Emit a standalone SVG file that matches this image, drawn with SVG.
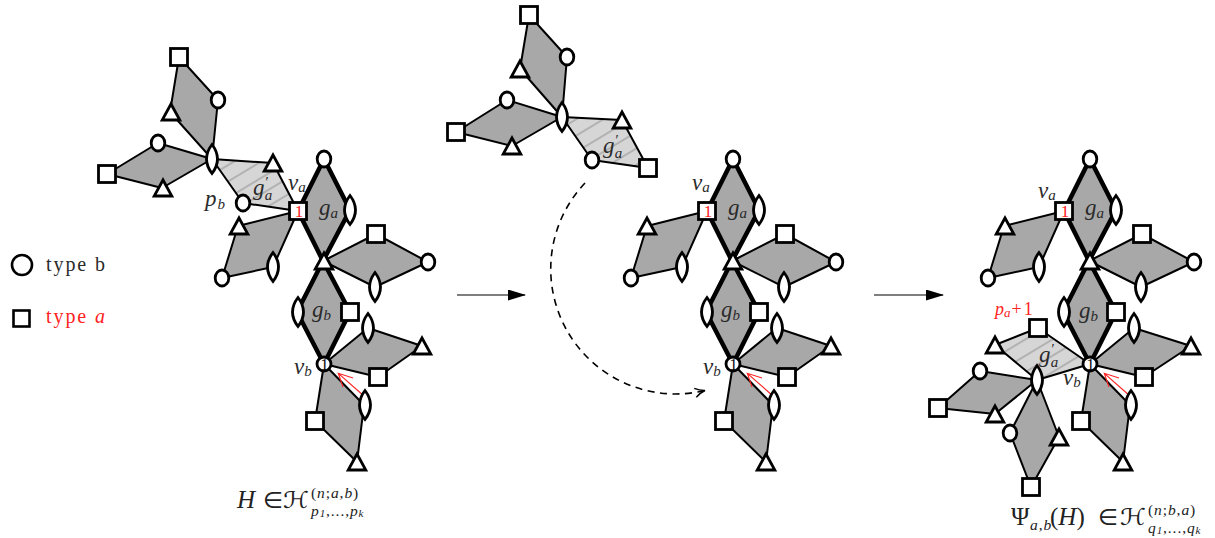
<svg xmlns="http://www.w3.org/2000/svg" width="1215" height="538" viewBox="0 0 1215 538">
<style>
.f{fill:#a8a8a8;stroke:#000;stroke-width:2;stroke-linejoin:round}
.t{fill:#a8a8a8;stroke:#000;stroke-width:4.5;stroke-linejoin:round}
.h{fill:url(#hatch);stroke:#000;stroke-width:2;stroke-linejoin:round}
.v{fill:#fff;stroke:#000;stroke-width:2.8}
.m{font-family:"Liberation Serif",serif;font-style:italic;font-size:23px;fill:#2a2a2a}
.s{font-size:15px}
.n{font-family:"Liberation Serif",serif;font-size:17px;text-anchor:middle}
.r{font-family:"Liberation Serif",serif;fill:#f22;font-size:18px}
.l{font-family:"Liberation Serif",serif;font-size:20px;fill:#2a2a2a}
.b{font-family:"Liberation Serif",serif;font-size:25px;fill:#222}
.i{font-style:italic}
.c{font-family:"DejaVu Sans",sans-serif;font-size:23px;fill:#222}
.sm{font-family:"Liberation Serif",serif;font-size:15.5px;letter-spacing:.9px;fill:#222}
.ar{fill:none;stroke:#f22;stroke-width:1.1}
</style>
<defs>
<pattern id="hatch" patternUnits="userSpaceOnUse" width="14" height="14" patternTransform="rotate(-31)">
<rect width="14" height="14" fill="#d6d6d6"/><line x1="0" y1="7" x2="14" y2="7" stroke="#a9a9a9" stroke-width="1.6"/>
</pattern>
<g id="sq"><rect class="v" x="-8.500" y="-8.500" width="17" height="17"/></g>
<g id="ci"><ellipse class="v" rx="6.800" ry="8"/></g>
<g id="tr"><path class="v" d="M0,-8L8.800,8H-8.800Z"/></g>
<g id="le"><path class="v" d="M0,-14.500Q11,0 0,14.500Q-11,0 0,-14.500Z"/></g>
<marker id="tip" markerWidth="18" markerHeight="11" refX="17" refY="5.500" orient="auto" markerUnits="userSpaceOnUse"><path d="M0,0L18,5.500L0,11Z" fill="#000"/></marker>
<marker id="open" markerWidth="14" markerHeight="12" refX="11" refY="6" orient="auto" markerUnits="userSpaceOnUse"><path d="M1,1.500Q6,5 11,6Q6,7 1,10.500" fill="none" stroke="#000" stroke-width="1.400"/></marker>
</defs>

<g id="connectors">
<g id="left-faces">
<polygon class="f" points="179,57 218,100 212,159 170,112"/>
<polygon class="f" points="212,159 158,143 107,174 162,188"/>
<polygon class="h" points="212,159 273,163 298,211 243,203"/>
<polygon class="t" points="298,211 324,159 350,210 323,261"/>
<polygon class="f" points="323,261 376,234 428,262 375,287"/>
<polygon class="f" points="298,211 238,226 222,278 273,267"/>
<polygon class="t" points="323,261 297,312 324,364 350,312"/>
<polygon class="f" points="324,364 368,328 422,346 378,377"/>
<polygon class="f" points="324,364 364,405 357,462 315,421"/>
</g>
<g id="middle-faces">
<polygon class="f" points="529,15 567,57 562,117 520,69"/>
<polygon class="f" points="562,117 507,100 456,132 512,146"/>
<polygon class="h" points="562,117 622,120 648,168 592,160"/>
<polygon class="t" points="707,211 733,159 759,210 732,261"/>
<polygon class="f" points="732,261 785,234 836,262 784,287"/>
<polygon class="f" points="707,211 647,226 631,278 682,267"/>
<polygon class="t" points="732,261 706,312 733,364 759,312"/>
<polygon class="f" points="733,364 777,328 831,346 787,377"/>
<polygon class="f" points="733,364 773,405 766,462 724,421"/>
</g>
<g id="right-faces">
<polygon class="t" points="1064,211 1090,159 1116,210 1089,261"/>
<polygon class="f" points="1089,261 1142,234 1194,262 1141,287"/>
<polygon class="f" points="1064,211 1004,226 988,278 1039,267"/>
<polygon class="t" points="1089,261 1063,312 1090,364 1116,312"/>
<polygon class="f" points="1090,364 1134,328 1191,346 1144,377"/>
<polygon class="f" points="1090,364 1130,405 1123,462 1081,421"/>
<polygon class="h" points="1090,364 1038,328 995,345 1037,380"/>
<polygon class="f" points="1037,380 980,371 938,408 995,414"/>
<polygon class="f" points="1037,380 1010,433 1031,487 1059,437"/>
</g>
<g id="arrows">
<line x1="457" y1="295" x2="525" y2="295" stroke="#000" stroke-width="1.100" marker-end="url(#tip)"/>
<line x1="874" y1="295" x2="943" y2="295" stroke="#000" stroke-width="1.100" marker-end="url(#tip)"/>
<path d="M585,183A125,125 0 0 0 705,390.500" fill="none" stroke="#000" stroke-width="1.600" stroke-dasharray="7 5.500" marker-end="url(#open)"/>
<path class="ar" d="M361.700,394L338.300,373.300M353,378L338.300,373.300L343,387"/>
<path class="ar" d="M770.700,394L747.300,373.300M762,378L747.300,373.300L752,387"/>
<path class="ar" d="M1127.700,394L1104.300,373.300M1119,378L1104.300,373.300L1109,387"/>
</g>
</g>

<g id="left-nodes">
<g id="L1"><use href="#sq" x="179" y="57"/></g>
<g id="L2"><use href="#ci" x="218" y="100"/></g>
<g id="L3"><use href="#tr" x="171" y="112"/></g>
<g id="L4"><use href="#le" x="212" y="159"/></g>
<g id="L5"><use href="#ci" x="158" y="143"/></g>
<g id="L6"><use href="#sq" x="107" y="174"/></g>
<g id="L7"><use href="#tr" x="163" y="188"/></g>
<g id="L8"><use href="#tr" x="273" y="163"/></g>
<g id="L9"><use href="#ci" x="243" y="203"/></g>
<g id="L10"><use href="#sq" x="298" y="211"/><text class="n" x="299" y="217" fill="#f22">1</text></g>
<g id="L11"><use href="#ci" x="324" y="159"/></g>
<g id="L12"><use href="#le" x="350" y="210"/></g>
<g id="L13"><use href="#tr" x="324" y="261"/></g>
<g id="L14"><use href="#sq" x="376" y="234"/></g>
<g id="L15"><use href="#ci" x="428" y="262"/></g>
<g id="L16"><use href="#le" x="375" y="287"/></g>
<g id="L17"><use href="#tr" x="239" y="226"/></g>
<g id="L18"><use href="#ci" x="222" y="278"/></g>
<g id="L19"><use href="#le" x="273" y="267"/></g>
<g id="L20"><use href="#le" x="298" y="312"/></g>
<g id="L21"><use href="#sq" x="350" y="312"/></g>
<g id="L22"><circle class="v" cx="324" cy="364" r="7"/><text class="n" x="324.500" y="370" fill="#111">1</text></g>
<g id="L23"><use href="#le" x="368" y="328"/></g>
<g id="L24"><use href="#tr" x="422" y="346"/></g>
<g id="L25"><use href="#sq" x="378" y="377"/></g>
<g id="L26"><use href="#le" x="365" y="405"/></g>
<g id="L27"><use href="#sq" x="315" y="421"/></g>
<g id="L28"><use href="#tr" x="357" y="462"/></g>
</g>

<g id="middle-nodes">
<g id="M1"><use href="#sq" x="529" y="15"/></g>
<g id="M2"><use href="#ci" x="567" y="57"/></g>
<g id="M3"><use href="#tr" x="520" y="69"/></g>
<g id="M4"><use href="#le" x="562" y="117"/></g>
<g id="M5"><use href="#ci" x="507" y="100"/></g>
<g id="M6"><use href="#sq" x="456" y="132"/></g>
<g id="M7"><use href="#tr" x="512" y="146"/></g>
<g id="M8"><use href="#tr" x="622" y="120"/></g>
<g id="M9"><use href="#ci" x="592" y="160"/></g>
<g id="M10"><use href="#sq" x="648" y="168"/></g>
<g id="M11"><use href="#sq" x="707" y="211"/><text class="n" x="708" y="217" fill="#f22">1</text></g>
<g id="M12"><use href="#ci" x="733" y="159"/></g>
<g id="M13"><use href="#le" x="759" y="210"/></g>
<g id="M14"><use href="#tr" x="733" y="261"/></g>
<g id="M15"><use href="#sq" x="785" y="234"/></g>
<g id="M16"><use href="#ci" x="836" y="262"/></g>
<g id="M17"><use href="#le" x="784" y="287"/></g>
<g id="M18"><use href="#tr" x="647" y="226"/></g>
<g id="M19"><use href="#ci" x="631" y="278"/></g>
<g id="M20"><use href="#le" x="682" y="267"/></g>
<g id="M21"><use href="#le" x="707" y="312"/></g>
<g id="M22"><use href="#sq" x="759" y="312"/></g>
<g id="M23"><circle class="v" cx="733" cy="364" r="7"/><text class="n" x="733.500" y="370" fill="#111">1</text></g>
<g id="M24"><use href="#le" x="777" y="328"/></g>
<g id="M25"><use href="#tr" x="831" y="346"/></g>
<g id="M26"><use href="#sq" x="787" y="377"/></g>
<g id="M27"><use href="#le" x="774" y="405"/></g>
<g id="M28"><use href="#sq" x="724" y="421"/></g>
<g id="M29"><use href="#tr" x="766" y="462"/></g>
</g>

<g id="right-nodes">
<g id="R1"><use href="#sq" x="1064" y="211"/><text class="n" x="1065" y="217" fill="#f22">1</text></g>
<g id="R2"><use href="#ci" x="1090" y="159"/></g>
<g id="R3"><use href="#le" x="1116" y="210"/></g>
<g id="R4"><use href="#tr" x="1090" y="261"/></g>
<g id="R5"><use href="#sq" x="1142" y="234"/></g>
<g id="R6"><use href="#ci" x="1194" y="262"/></g>
<g id="R7"><use href="#le" x="1141" y="287"/></g>
<g id="R8"><use href="#tr" x="1005" y="226"/></g>
<g id="R9"><use href="#ci" x="988" y="278"/></g>
<g id="R10"><use href="#le" x="1039" y="267"/></g>
<g id="R11"><use href="#le" x="1064" y="312"/></g>
<g id="R12"><use href="#sq" x="1116" y="312"/></g>
<g id="R13"><circle class="v" cx="1090" cy="364" r="7"/><text class="n" x="1090.500" y="370" fill="#111">1</text></g>
<g id="R14"><use href="#le" x="1134" y="328"/></g>
<g id="R15"><use href="#tr" x="1191" y="346"/></g>
<g id="R16"><use href="#sq" x="1144" y="377"/></g>
<g id="R17"><use href="#le" x="1131" y="405"/></g>
<g id="R18"><use href="#sq" x="1081" y="421"/></g>
<g id="R19"><use href="#tr" x="1123" y="462"/></g>
<g id="R20"><use href="#sq" x="1038" y="328"/></g>
<g id="R21"><use href="#tr" x="995" y="345"/></g>
<g id="R22"><use href="#le" x="1037" y="380"/></g>
<g id="R23"><use href="#ci" x="980" y="371"/></g>
<g id="R24"><use href="#sq" x="938" y="408"/></g>
<g id="R25"><use href="#tr" x="995" y="414"/></g>
<g id="R26"><use href="#ci" x="1010" y="433"/></g>
<g id="R27"><use href="#tr" x="1059" y="437"/></g>
<g id="R28"><use href="#sq" x="1031" y="487"/></g>
</g>

<g id="legend">
<circle cx="22" cy="265" r="10" fill="#fff" stroke="#000" stroke-width="2.600"/>
<rect x="13.500" y="310.500" width="16" height="16" fill="#fff" stroke="#000" stroke-width="2.600"/>
<text class="l" x="46" y="271" textLength="59">type b</text>
<text class="l" x="46" y="323" textLength="59" style="fill:#f22">type <tspan class="i">a</tspan></text>
</g>

<g id="labels">
<text class="m" x="205" y="206">p<tspan class="s" dy="3" dx="1">b</tspan></text>
<text class="m" x="253" y="195">g<tspan class="s" dy="-8" dx="0">′</tspan><tspan class="s" dy="13" dx="-3">a</tspan></text>
<text class="m" x="288" y="190">v<tspan class="s" dy="2">a</tspan></text>
<text class="m" x="319" y="215">g<tspan class="s" dy="3">a</tspan></text>
<text class="m" x="312" y="317">g<tspan class="s" dy="3">b</tspan></text>
<text class="m" x="294" y="374">v<tspan class="s" dy="2">b</tspan></text>

<text class="m" x="603" y="153">g<tspan class="s" dy="-8" dx="0">′</tspan><tspan class="s" dy="13" dx="-3">a</tspan></text>
<text class="m" x="692" y="190">v<tspan class="s" dy="2">a</tspan></text>
<text class="m" x="728" y="215">g<tspan class="s" dy="3">a</tspan></text>
<text class="m" x="721" y="317">g<tspan class="s" dy="3">b</tspan></text>
<text class="m" x="703" y="374">v<tspan class="s" dy="2">b</tspan></text>

<text class="m" x="1039" y="362">g<tspan class="s" dy="-8" dx="0">′</tspan><tspan class="s" dy="13" dx="-3">a</tspan></text>
<text class="m" x="1038" y="198">v<tspan class="s" dy="2">a</tspan></text>
<text class="m" x="1085" y="215">g<tspan class="s" dy="3">a</tspan></text>
<text class="m" x="1079" y="318">g<tspan class="s" dy="3">b</tspan></text>
<text class="m" x="1063" y="385">v<tspan class="s" dy="2">b</tspan></text>
<text class="r" x="995" y="315"><tspan class="i">p</tspan><tspan class="i" font-size="13" dy="2">a</tspan><tspan dy="-2" dx="1">+</tspan><tspan dx="2">1</tspan></text>

<text class="b i" x="237" y="508">H</text><text class="c" x="263" y="508">∈</text><text class="c" x="283" y="508" textLength="26" lengthAdjust="spacingAndGlyphs">ℋ</text>
<text class="sm" x="311" y="498">(<tspan class="i">n</tspan>;<tspan class="i">a</tspan>,<tspan class="i">b</tspan>)</text>
<text class="sm i" x="311" y="516">p<tspan font-size="11" dy="1">1</tspan><tspan dy="-1" font-style="normal">,...,</tspan>p<tspan font-size="11" dy="1">k</tspan></text>

<text class="b" x="1011" y="525">Ψ</text><text class="sm i" x="1030" y="530">a,b</text><text class="b" x="1050" y="525">(<tspan class="i">H</tspan>)</text>
<text class="c" x="1098" y="525">∈</text><text class="c" x="1120" y="525" textLength="26" lengthAdjust="spacingAndGlyphs">ℋ</text>
<text class="sm" x="1148" y="515">(<tspan class="i">n</tspan>;<tspan class="i">b</tspan>,<tspan class="i">a</tspan>)</text>
<text class="sm i" x="1148" y="533">q<tspan font-size="11" dy="1">1</tspan><tspan dy="-1" font-style="normal">,...,</tspan>q<tspan font-size="11" dy="1">k</tspan></text>
</g>
</svg>
